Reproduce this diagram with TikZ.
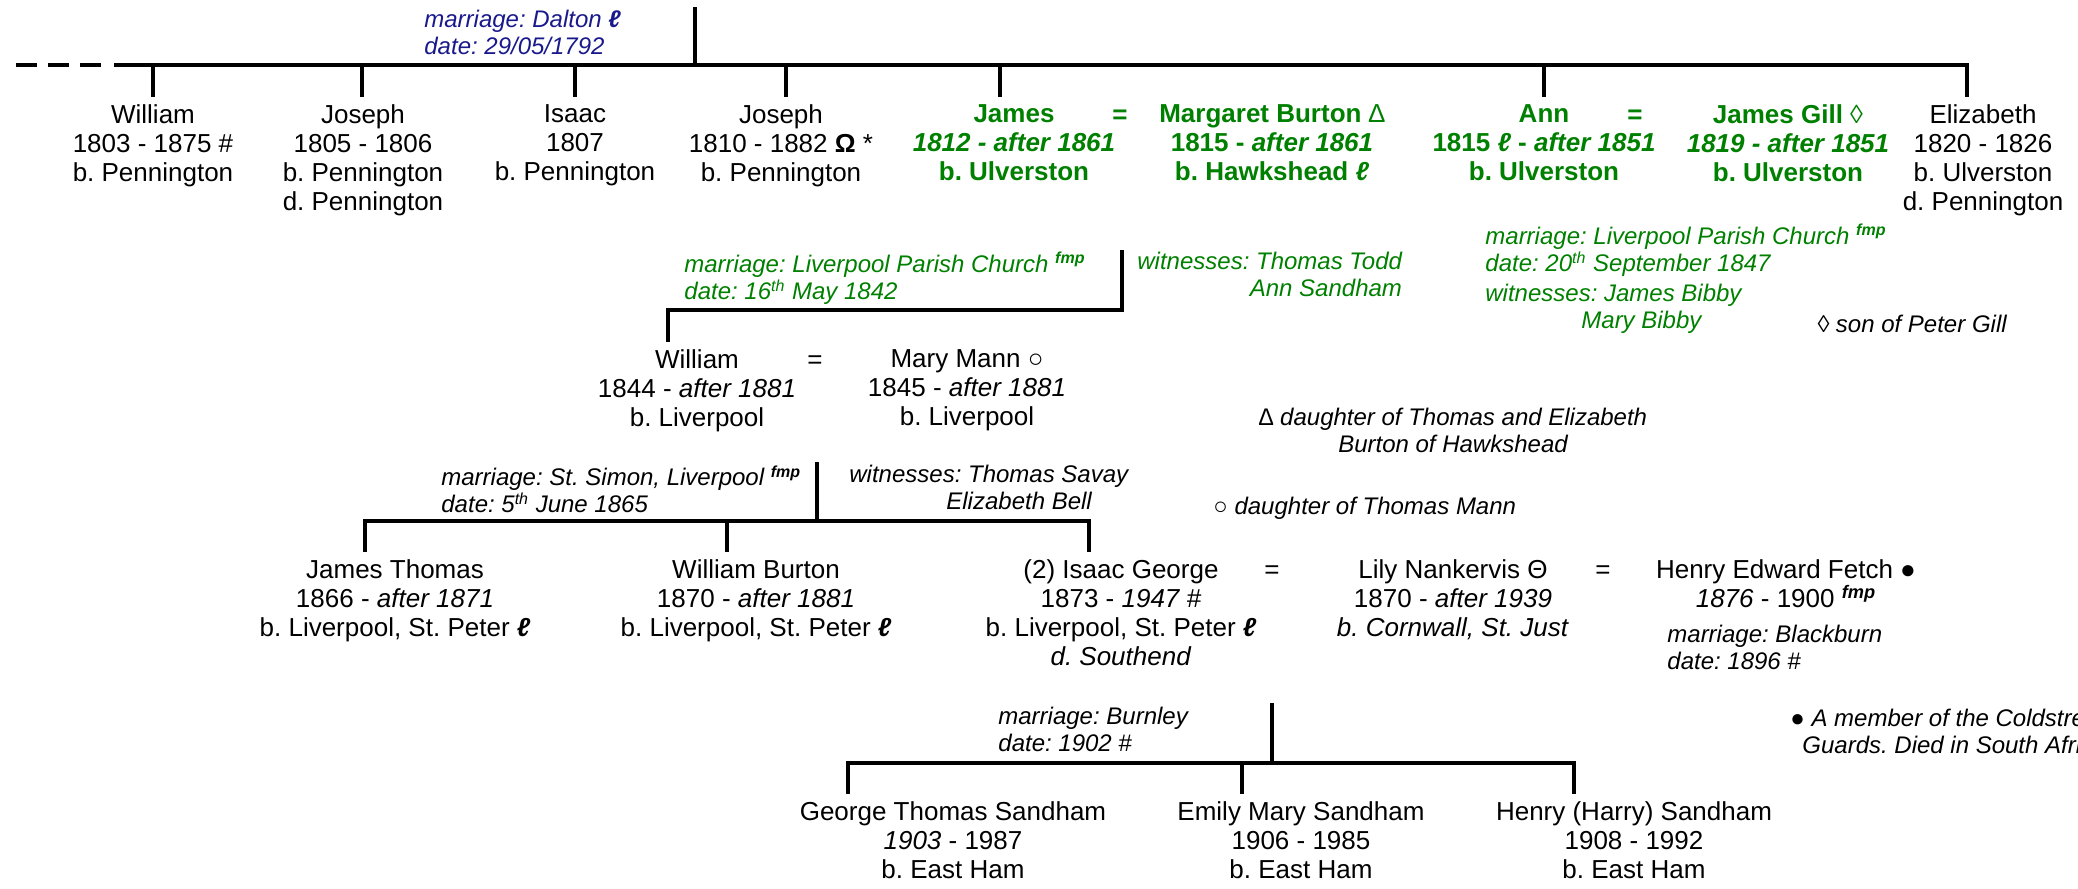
\documentclass[tikz,border=0pt]{standalone}
\usepackage{fontspec}
\setmainfont{Liberation Sans}
\frenchspacing
\definecolor{fgreen}{RGB}{0,128,0}
\definecolor{fblue}{RGB}{25,25,140}
\newcommand{\Lref}{{\bfseries\itshape ℓ}}
\newcommand{\fmpref}{\textsuperscript{\bfseries\itshape fmp}}
\begin{document}
\begin{tikzpicture}[x=0.5pt,y=-0.5pt,
  person/.style={anchor=north, align=center, inner sep=0pt, font=\fontsize{13}{14.5}\selectfont},
  gperson/.style={person, text=fgreen, font=\fontsize{13}{14.5}\selectfont\bfseries},
  eqsign/.style={anchor=base, inner sep=0pt, font=\fontsize{13}{14.5}\selectfont},
  note/.style={anchor=north west, align=left, inner sep=0pt, font=\fontsize{12}{13.5}\selectfont\itshape},
  hline/.style={line width=2.2pt, line cap=rect},
  vline/.style={line width=1.6pt},
  drop/.style={line width=1.6pt, shorten >=3.5pt}]
\useasboundingbox (0,0) rectangle (2078,889);

% ---------- generation 1 ----------
\node[note, text=fblue] (mdal) at (424,10) {marriage: Dalton \Lref\\date: 29/05/1792};
\coordinate (dal) at (695,7);
\coordinate (dalb) at (695,65);
\draw[vline] (dal) -- (dalb);
\coordinate (lineL) at (116,65);
\coordinate (lineR) at (1967,65);
\draw[hline] (lineL) -- (lineR);
\coordinate (dashL) at (16,65);
\coordinate (dashR) at (101,65);
\draw[line width=2.2pt, dash pattern=on 10.5pt off 5.5pt] (dashL) -- (dashR);

\node[person] (w1) at (153,104) {William\\1803 - 1875 \#\\b. Pennington};
\node[person] (j1) at (363,104) {Joseph\\1805 - 1806\\b. Pennington\\d. Pennington};
\node[person] (i1) at (575,104) {Isaac\\1807\\b. Pennington};
\node[person] (j2) at (781,104) {Joseph\\1810 - 1882 \textbf{Ω} *\\b. Pennington};
\node[gperson] (ja) at (1014,104) {James\\\textit{1812 - after 1861}\\b. Ulverston};
\node[eqsign, text=fgreen, font=\fontsize{13}{14.5}\selectfont\bfseries] (eq1) at (1120,123) {=};
\node[gperson] (mb) at (1272,104) {Margaret Burton {\mdseries ∆}\\1815 - \textit{after 1861}\\b. Hawkshead \Lref};
\node[gperson] (an) at (1544,104) {Ann\\1815 \Lref{} - \textit{after 1851}\\b. Ulverston};
\node[eqsign, text=fgreen, font=\fontsize{13}{14.5}\selectfont\bfseries] (eq2) at (1635,123) {=};
\node[gperson] (jg) at (1788,104) {James Gill {\mdseries ◊}\\\textit{1819 - after 1851}\\b. Ulverston};
\node[person] (el) at (1983,104) {Elizabeth\\1820 - 1826\\b. Ulverston\\d. Pennington};

\foreach \n/\x in {w1/153, j1/362, i1/575, j2/786, ja/1000, an/1544, el/1967}
  \draw[drop] (\x,65) -- (\x,65 |- \n.north);

% ---------- James = Margaret ----------
\node[note, text=fgreen] (mliv1) at (684,252) {marriage: Liverpool Parish Church \fmpref\\date: 16\textsuperscript{th} May 1842};
\node[note, text=fgreen, align=right] (wit1) at (1137,252) {witnesses: Thomas Todd\\Ann Sandham};
\coordinate (m1) at (1122,250);
\coordinate (m1b) at (1122,310);
\coordinate (m1c) at (668,310);
\draw[vline] (m1) -- (m1b);
\draw[hline] (m1b) -- (m1c);

% ---------- Ann = James Gill ----------
\node[note, text=fgreen] (mliv2) at (1485,224) {marriage: Liverpool Parish Church \fmpref\\date: 20\textsuperscript{th} September 1847};
\node[note, text=fgreen] (wit2) at (1485,284) {witnesses: James Bibby\\\hspace*{48pt}Mary Bibby};
\node[note] (sgill) at (1817,315) {◊ son of Peter Gill};

% ---------- generation 2 ----------
\node[person] (wm) at (697,349) {William\\1844 - \textit{after 1881}\\b. Liverpool};
\node[eqsign] (eq3) at (815,368) {=};
\node[person] (mm) at (967,349) {Mary Mann ○\\1845 - \textit{after 1881}\\b. Liverpool};
\draw[drop] (m1c) -- (m1c |- wm.north);

\node[note, align=center, anchor=north] (dburton) at (1453,408) {∆ daughter of Thomas and Elizabeth\\Burton of Hawkshead};

\node[note] (msimon) at (441,465) {marriage: St. Simon, Liverpool \fmpref\\date: 5\textsuperscript{th} June 1865};
\node[note] (wit3) at (849,465) {witnesses: Thomas Savay\\\hspace*{48.5pt}Elizabeth Bell};
\node[note] (dmann) at (1213,497) {○ daughter of Thomas Mann};
\coordinate (m2) at (817,462);
\coordinate (m2b) at (817,521);
\coordinate (l2L) at (365,521);
\coordinate (l2R) at (1089,521);
\draw[vline] (m2) -- (m2b);
\draw[hline] (l2L) -- (l2R);

% ---------- generation 3 ----------
\node[person] (jt) at (395,559) {James Thomas\\1866 - \textit{after 1871}\\b. Liverpool, St. Peter \Lref};
\node[person] (wb) at (756,559) {William Burton\\1870 - \textit{after 1881}\\b. Liverpool, St. Peter \Lref};
\node[person] (ig) at (1121,559) {(2) Isaac George\\1873 - \textit{1947 \#}\\b. Liverpool, St. Peter \Lref\\\textit{d. Southend}};
\node[eqsign] (eq4) at (1272,578) {=};
\node[person] (ln) at (1453,559) {Lily Nankervis Θ\\1870 - \textit{after 1939}\\\textit{b. Cornwall, St. Just}};
\node[eqsign] (eq5) at (1603,578) {=};
\node[person] (hf) at (1786,559) {Henry Edward Fetch ●\\\textit{1876} - 1900 \fmpref};
\node[note] (mblack) at (1667,625) {marriage: Blackburn\\date: 1896 \#};

\foreach \n/\x in {jt/365, wb/727, ig/1089}
  \draw[drop] (\x,521) -- (\x,521 |- \n.north);

\node[note] (mburn) at (998,707) {marriage: Burnley\\date: 1902 \#};
\node[note] (cold) at (1790,709) {● A member of the Coldstream\\\hspace*{6pt}Guards. Died in South Africa};
\coordinate (m3) at (1272,703);
\coordinate (m3b) at (1272,763);
\coordinate (l3L) at (848,763);
\coordinate (l3R) at (1574,763);
\draw[vline] (m3) -- (m3b);
\draw[hline] (l3L) -- (l3R);

% ---------- generation 4 ----------
\node[person] (gs) at (953,801) {George Thomas Sandham\\\textit{1903} - 1987\\b. East Ham};
\node[person] (es) at (1301,801) {Emily Mary Sandham\\1906 - 1985\\b. East Ham};
\node[person] (hs) at (1634,801) {Henry (Harry) Sandham\\1908 - 1992\\b. East Ham};
\foreach \n/\x in {gs/848, es/1242, hs/1574}
  \draw[drop] (\x,763) -- (\x,763 |- \n.north);
\end{tikzpicture}
\end{document}
